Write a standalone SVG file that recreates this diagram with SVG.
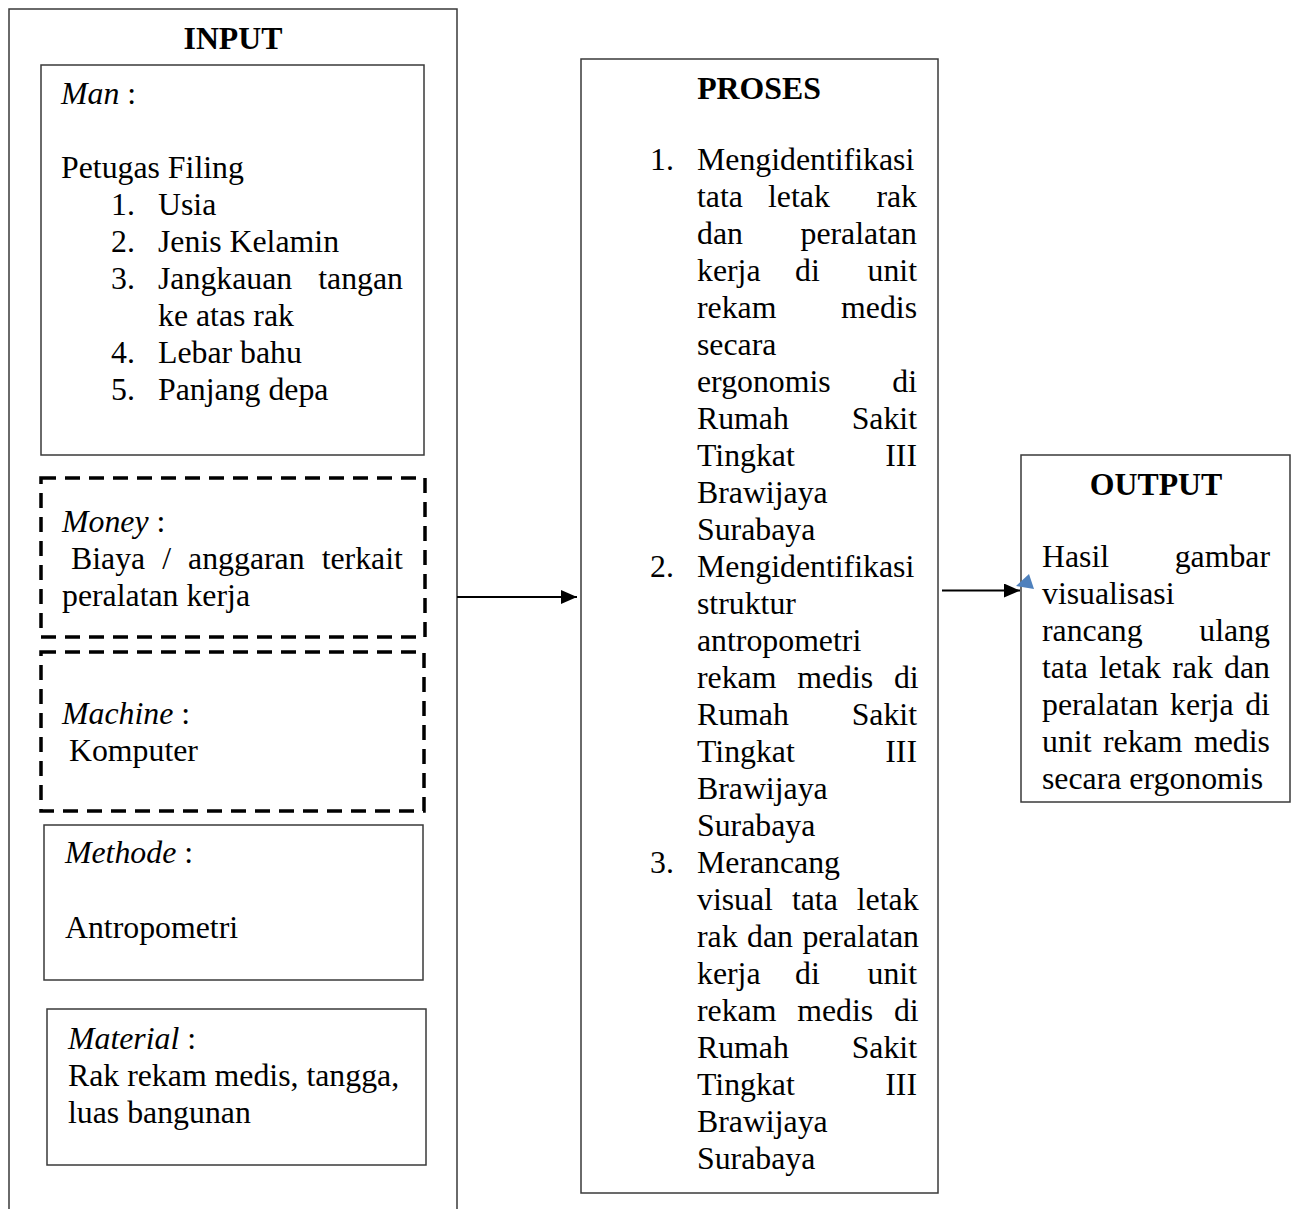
<svg xmlns="http://www.w3.org/2000/svg" width="1299" height="1209" viewBox="0 0 1299 1209">
<defs>
<style>
text{font-family:"Liberation Serif","Times New Roman",serif;font-size:31.8px;fill:#000}
.b{font-weight:bold}
.i{font-style:italic}
.e{text-anchor:end}
.m{text-anchor:middle}
.box{fill:#fff;stroke:#3a3a3a;stroke-width:1.5}
.dash{fill:none;stroke:#000;stroke-width:3.5;stroke-dasharray:15 9}
.conn{stroke:#000;stroke-width:2;fill:none}
</style>
<marker id="ah" markerWidth="8" markerHeight="7" refX="8" refY="3.5" orient="auto" markerUnits="strokeWidth"><path d="M0,0 L8,3.5 L0,7 z" fill="#000"/></marker>
</defs>
<rect width="1299" height="1209" fill="#fff"/>

<g id="input">
<path d="M9,1210 V9 H457 V1210" fill="none" stroke="#3a3a3a" stroke-width="1.5"/>
<text class="b m" x="233" y="49">INPUT</text>
</g>

<g id="man">
<rect class="box" x="41" y="65" width="383" height="390"/>
<text x="61" y="104"><tspan class="i">Man</tspan> :</text>
<text x="61" y="178">Petugas Filing</text>
<text x="111" y="215">1.</text><text x="158" y="215">Usia</text>
<text x="111" y="252">2.</text><text x="158" y="252">Jenis Kelamin</text>
<text x="111" y="289">3.</text><text x="158" y="289">Jangkauan</text><text class="e" x="403" y="289">tangan</text>
<text x="158" y="326">ke atas rak</text>
<text x="111" y="363">4.</text><text x="158" y="363">Lebar bahu</text>
<text x="111" y="400">5.</text><text x="158" y="400">Panjang depa</text>
</g>

<g id="money">
<rect class="dash" x="41" y="478" width="384" height="159"/>
<text x="62" y="532"><tspan class="i">Money</tspan> :</text>
<text x="71" y="569" word-spacing="9.1">Biaya / anggaran terkait</text>
<text x="62" y="606">peralatan kerja</text>
</g>

<g id="machine">
<rect class="dash" x="41" y="652" width="383" height="159"/>
<text x="62" y="724"><tspan class="i">Machine</tspan> :</text>
<text x="69" y="761">Komputer</text>
</g>

<g id="methode">
<rect class="box" x="44" y="825" width="379" height="155"/>
<text x="65" y="863"><tspan class="i">Methode</tspan> :</text>
<text x="65" y="938">Antropometri</text>
</g>

<g id="material">
<rect class="box" x="47" y="1009" width="379" height="156"/>
<text x="68" y="1049"><tspan class="i">Material</tspan> :</text>
<text x="68" y="1086">Rak rekam medis, tangga,</text>
<text x="68" y="1123">luas bangunan</text>
</g>

<g id="proses">
<rect class="box" x="581" y="59" width="357" height="1134"/>
<text class="b m" x="759" y="99">PROSES</text>
<text x="650" y="170">1.</text><text x="697" y="170">Mengidentifikasi</text>
<text x="697" y="207">tata</text><text x="768" y="207">letak</text><text class="e" x="917" y="207">rak</text>
<text x="697" y="244">dan</text><text class="e" x="917" y="244">peralatan</text>
<text x="697" y="281">kerja</text><text x="795" y="281">di</text><text class="e" x="917" y="281">unit</text>
<text x="697" y="318">rekam</text><text class="e" x="917" y="318">medis</text>
<text x="697" y="355">secara</text>
<text x="697" y="392">ergonomis</text><text class="e" x="917" y="392">di</text>
<text x="697" y="429">Rumah</text><text class="e" x="917" y="429">Sakit</text>
<text x="697" y="466">Tingkat</text><text class="e" x="917" y="466">III</text>
<text x="697" y="503">Brawijaya</text>
<text x="697" y="540">Surabaya</text>
<text x="650" y="577">2.</text><text x="697" y="577">Mengidentifikasi</text>
<text x="697" y="614">struktur</text>
<text x="697" y="651">antropometri</text>
<text x="697" y="688" word-spacing="12.8">rekam medis di</text>
<text x="697" y="725">Rumah</text><text class="e" x="917" y="725">Sakit</text>
<text x="697" y="762">Tingkat</text><text class="e" x="917" y="762">III</text>
<text x="697" y="799">Brawijaya</text>
<text x="697" y="836">Surabaya</text>
<text x="650" y="873">3.</text><text x="697" y="873">Merancang</text>
<text x="697" y="910" word-spacing="11">visual tata letak</text>
<text x="697" y="947" word-spacing="1.5">rak dan peralatan</text>
<text x="697" y="984">kerja</text><text x="795" y="984">di</text><text class="e" x="917" y="984">unit</text>
<text x="697" y="1021" word-spacing="12.8">rekam medis di</text>
<text x="697" y="1058">Rumah</text><text class="e" x="917" y="1058">Sakit</text>
<text x="697" y="1095">Tingkat</text><text class="e" x="917" y="1095">III</text>
<text x="697" y="1132">Brawijaya</text>
<text x="697" y="1169">Surabaya</text>
</g>

<g id="output">
<rect class="box" x="1021" y="455" width="269" height="347"/>
<text class="b m" x="1156" y="495">OUTPUT</text>
<text x="1042" y="567">Hasil</text><text class="e" x="1270" y="567">gambar</text>
<text x="1042" y="604">visualisasi</text>
<text x="1042" y="641">rancang</text><text class="e" x="1270" y="641">ulang</text>
<text x="1042" y="678" word-spacing="3.3">tata letak rak dan</text>
<text x="1042" y="715" word-spacing="3.6">peralatan kerja di</text>
<text x="1042" y="752" word-spacing="3.6">unit rekam medis</text>
<text x="1042" y="789">secara ergonomis</text>
</g>

<g id="connectors">
<line class="conn" x1="457" y1="597" x2="577" y2="597" marker-end="url(#ah)"/>
<line class="conn" x1="942" y1="590.5" x2="1020" y2="590.5" marker-end="url(#ah)"/>
<polygon points="1016,586 1029,574 1034,589" fill="#4F81BD"/>
</g>
</svg>
